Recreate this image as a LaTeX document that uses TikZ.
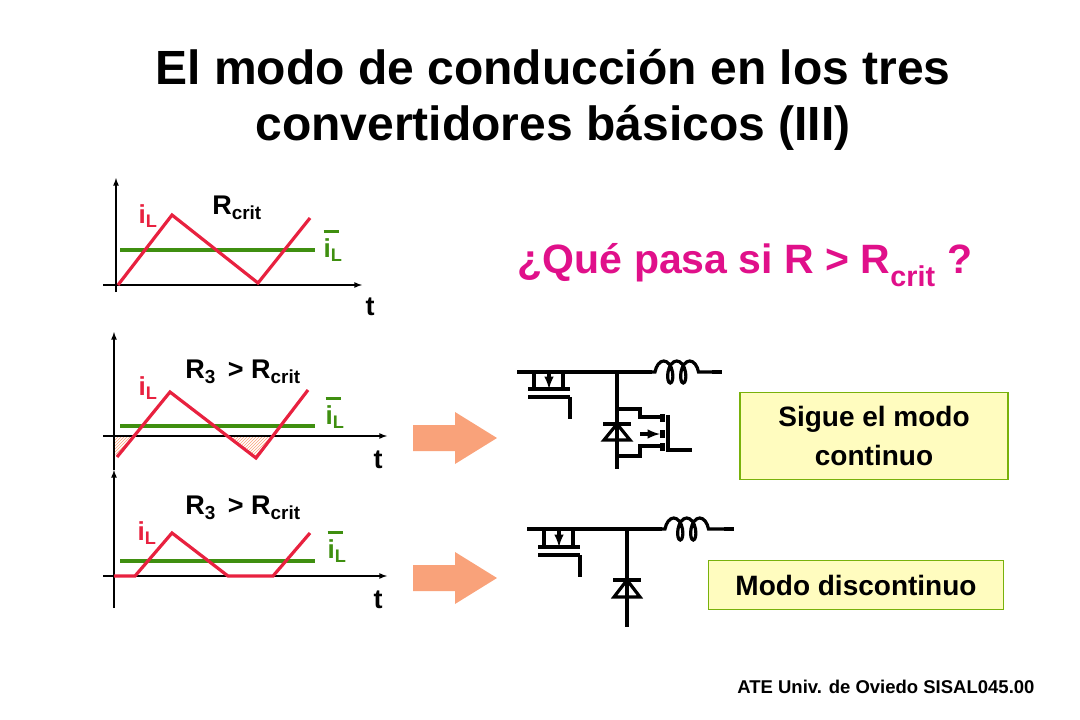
\documentclass[tikz,border=0pt]{standalone}
\usepackage{fontspec}
\setmainfont{Liberation Sans}
\usetikzlibrary{patterns,decorations.pathmorphing}
\definecolor{redc}{HTML}{E8213F}
\definecolor{grn}{HTML}{3F8F10}
\definecolor{mag}{HTML}{E0108A}
\definecolor{sal}{HTML}{F9A27A}
\newcommand{\ilbar}{\makebox[0pt][l]{\raisebox{0.95em}{\rule{0.6em}{2.5pt}}}i\textsubscript{L}}
\begin{document}
\begin{tikzpicture}[x=1pt,y=-1pt,font=\bfseries,
  ax/.style={line width=1.6pt,-latex},
  sig/.style={redc,line width=3.2pt},
  avg/.style={grn,line width=3.6pt},
  lr/.style={redc,font=\bfseries\fontsize{26}{30}\selectfont},
  lg/.style={grn,font=\bfseries\fontsize{26}{30}\selectfont},
  lb/.style={font=\bfseries\fontsize{27}{32}\selectfont},
  wire/.style={line width=3.2pt},
  ybox/.style={draw=grn!70!yellow,fill=yellow!25,line width=1.2pt,align=center,font=\bfseries\fontsize{28}{39}\selectfont}]
\useasboundingbox (0,0) rectangle (1080,720);
\node (title) at (553,100) [align=center,font=\bfseries\fontsize{48}{56}\selectfont] {El modo de conducción en los tres\\convertidores básicos (III)};
% graph 1
\draw[ax] (116,292) -- (116,178);
\draw[ax] (103,285) -- (362,285);
\draw[avg] (120,250) -- (315,250);
\draw[sig] (118,285) -- (172,215) -- (258,283) -- (310,218);
\node[lr] (il1) at (148,216) {i\textsubscript{L}};
\node[lb] (rc1) at (237,208) {R\textsubscript{crit}};
\node[lg] (ib1) at (333,246) {\ilbar};
\node[lb] (t1) at (370,307) {t};
% graph 2
\fill[pattern=north east lines,pattern color=sal] (114,436) -- (134,436) -- (117,457) -- (114,452) -- cycle;
\fill[pattern=north east lines,pattern color=sal] (227,436) -- (256,458) -- (273,436) -- cycle;
\draw[ax] (114,470) -- (114,332);
\draw[ax] (103,436) -- (387,436);
\draw[avg] (120,426) -- (315,426);
\draw[sig] (117,457) -- (170,392) -- (256,458) -- (308,390);
\node[lr] (il2) at (148,388) {i\textsubscript{L}};
\node[lb] (rc2) at (243,372) {R\textsubscript{3} {\,}> R\textsubscript{crit}};
\node[lg] (ib2) at (335,413) {\ilbar};
\node[lb] (t2) at (378,460) {t};
% graph 3
\draw[ax] (114,608) -- (114,470);
\draw[ax] (103,576) -- (387,576);
\draw[avg] (120,561) -- (315,561);
\draw[sig] (114,576) -- (135,576) -- (172,533) -- (228,576) -- (273,576) -- (310,533);
\node[lr] (il3) at (147,533) {i\textsubscript{L}};
\node[lb] (rc3) at (243,508) {R\textsubscript{3} {\,}> R\textsubscript{crit}};
\node[lg] (ib3) at (337,547) {\ilbar};
\node[lb] (t3) at (378,600) {t};
% arrows
\fill[sal] (413,425) -- (455,425) -- (455,412) -- (497,438) -- (455,464) -- (455,451) -- (413,451) -- cycle;
\fill[sal] (413,565) -- (455,565) -- (455,552) -- (497,578) -- (455,604) -- (455,591) -- (413,591) -- cycle;
% question
\node[mag,font=\bfseries\fontsize{41}{48}\selectfont] (q) at (745,265) {¿Qué pasa si R > R\textsubscript{crit} ?};
% circuit 1
\coordinate (c1a) at (517,372);
\coordinate (c1b) at (652,372);
\coordinate (c1c) at (712,372);
\coordinate (c1d) at (722,372);
\draw[wire] (c1a) -- (c1b);
\draw[wire,decorate,decoration={coil,aspect=0.5,segment length=13pt,amplitude=11pt,pre length=3pt,post length=3pt}] (c1b) -- (c1c);
\draw[wire] (c1c) -- (c1d);
\draw[wire] (534,372) -- (534,389) (563,372) -- (563,389);
\draw[wire,-latex] (549,372) -- (549,389);
\draw[line width=4pt] (528,389) -- (570,389);
\draw[line width=4pt] (528,397) -- (570,397);
\draw[wire] (570,397) -- (570,419);
\draw[wire] (617,372) -- (617,469);
\draw[line width=4pt] (603,424) -- (631,424);
\draw[wire] (617,424) -- (604,440) -- (630,440) -- cycle;
\draw[wire] (617,409) -- (640,409) -- (640,417) -- (660,417);
\draw[wire] (617,456) -- (640,456) -- (640,446) -- (660,446);
\draw[wire,-latex] (640,434) -- (660,434);
\draw[line width=5pt] (662,414) -- (662,422) (662,430) -- (662,438) (662,443) -- (662,451);
\draw[wire] (668,415) -- (668,450) -- (692,450);
% circuit 2
\coordinate (c2a) at (527,529);
\coordinate (c2b) at (662,529);
\coordinate (c2c) at (724,529);
\coordinate (c2d) at (734,529);
\draw[wire] (c2a) -- (c2b);
\draw[wire,decorate,decoration={coil,aspect=0.5,segment length=13pt,amplitude=11pt,pre length=3pt,post length=3pt}] (c2b) -- (c2c);
\draw[wire] (c2c) -- (c2d);
\draw[wire] (544,529) -- (544,547) (573,529) -- (573,547);
\draw[wire,-latex] (559,529) -- (559,547);
\draw[line width=4pt] (538,547) -- (580,547);
\draw[line width=4pt] (538,555) -- (580,555);
\draw[wire] (580,555) -- (580,577);
\draw[wire] (627,529) -- (627,627);
\draw[line width=4pt] (613,580) -- (641,580);
\draw[wire] (627,580) -- (614,597) -- (640,597) -- cycle;
% boxes
\node[ybox,minimum width=268pt,minimum height=87pt] (b1) at (874,436) {Sigue el modo\\continuo};
\node[ybox,minimum width=295pt,minimum height=49pt] (b2) at (856,585) {Modo discontinuo};
\node[anchor=east,font=\bfseries\fontsize{18.5}{22}\selectfont] (foot) at (1038,687) {ATE Univ. de Oviedo SISAL045.00};
\end{tikzpicture}
\end{document}
